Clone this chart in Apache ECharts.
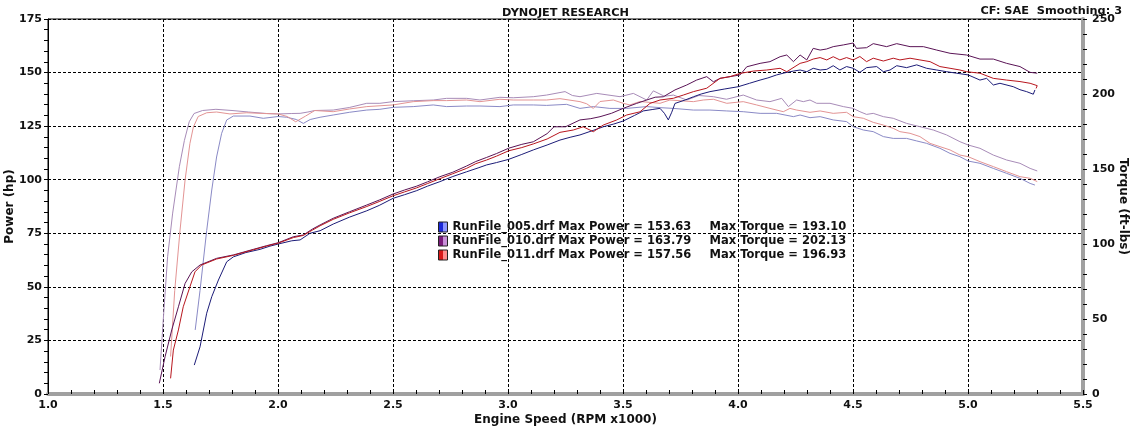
<!DOCTYPE html>
<html><head><meta charset="utf-8">
<script src="https://cdn.jsdelivr.net/npm/echarts/dist/echarts.min.js"></script>
<style>html,body{margin:0;padding:0;background:#fff}#c{width:1131px;height:426px}</style>
</head><body><div id="c"></div>
<script>
const runNames = ['RunFile_005.drf','RunFile_010.drf','RunFile_011.drf'];
const maxPower = [153.63, 163.79, 157.56];
const maxTorque = [193.10, 202.13, 196.93];

const power005 = [[1.636,13.5],[1.661,22.0],[1.690,37.7],[1.712,45.4],[1.741,53.2],[1.777,61.7],[1.806,64.0],[1.860,66.0],[1.922,67.5],[1.965,69.0],[2.001,70.0],[2.060,71.5],[2.096,71.9],[2.139,75.0],[2.183,76.2],[2.240,79.3],[2.310,82.5],[2.386,85.5],[2.440,88.0],[2.500,91.3],[2.550,93.0],[2.603,94.9],[2.650,97.0],[2.704,99.1],[2.760,101.5],[2.820,103.7],[2.870,105.5],[2.907,106.9],[2.950,108.0],[3.003,109.5],[3.060,111.8],[3.110,113.9],[3.170,116.2],[3.226,118.5],[3.270,119.8],[3.313,120.9],[3.370,123.0],[3.414,124.7],[3.460,126.0],[3.501,127.4],[3.550,130.0],[3.588,132.1],[3.630,132.8],[3.661,133.3],[3.680,131.0],[3.697,127.9],[3.712,131.5],[3.726,135.6],[3.770,137.2],[3.806,138.7],[3.840,140.0],[3.878,141.1],[3.940,142.3],[4.001,143.4],[4.050,145.0],[4.096,146.5],[4.130,147.5],[4.168,148.9],[4.200,149.8],[4.241,150.7],[4.270,151.2],[4.299,150.4],[4.327,152.0],[4.357,151.2],[4.386,151.5],[4.414,153.2],[4.443,151.2],[4.472,152.8],[4.501,152.0],[4.530,150.1],[4.559,152.3],[4.603,152.8],[4.632,150.4],[4.661,151.2],[4.690,153.2],[4.733,152.3],[4.777,153.6],[4.820,152.0],[4.864,151.2],[4.907,150.4],[4.951,149.7],[5.001,148.9],[5.052,146.5],[5.081,147.3],[5.110,144.2],[5.139,145.0],[5.197,143.4],[5.226,142.0],[5.255,141.1],[5.284,139.9],[5.291,141.9]];

const power010 = [[1.484,5.0],[1.509,17.4],[1.538,29.9],[1.567,40.7],[1.596,51.6],[1.625,57.0],[1.661,60.2],[1.733,63.3],[1.806,64.9],[1.893,67.5],[1.950,69.2],[2.001,70.6],[2.067,73.4],[2.110,74.2],[2.150,77.0],[2.183,78.9],[2.240,82.0],[2.310,85.0],[2.386,88.2],[2.440,90.5],[2.500,93.3],[2.550,95.2],[2.603,97.0],[2.650,99.0],[2.704,101.4],[2.760,103.5],[2.820,106.4],[2.860,108.5],[2.907,110.4],[2.950,112.2],[3.003,114.7],[3.060,116.5],[3.110,117.7],[3.170,121.5],[3.200,124.7],[3.250,124.7],[3.313,127.9],[3.360,128.5],[3.400,129.4],[3.450,131.0],[3.501,133.3],[3.559,135.6],[3.603,137.2],[3.640,138.5],[3.675,138.7],[3.726,141.9],[3.777,144.2],[3.820,146.5],[3.864,148.1],[3.893,145.7],[3.922,147.3],[3.965,148.1],[4.009,148.9],[4.038,152.7],[4.096,154.3],[4.139,155.1],[4.183,157.4],[4.212,158.2],[4.241,155.1],[4.270,158.2],[4.299,155.9],[4.327,161.3],[4.357,160.5],[4.385,161.0],[4.414,162.1],[4.458,162.9],[4.501,163.8],[4.515,161.3],[4.559,161.6],[4.588,163.5],[4.646,162.1],[4.690,163.5],[4.748,162.1],[4.806,162.1],[4.864,160.5],[4.922,159.0],[4.994,158.2],[5.052,156.3],[5.110,156.3],[5.168,154.3],[5.226,152.8],[5.270,150.1],[5.301,149.7]];

const power011 = [[1.533,7.3],[1.545,20.5],[1.567,29.9],[1.588,40.7],[1.617,50.0],[1.639,57.0],[1.668,60.2],[1.733,63.0],[1.806,64.7],[1.893,67.3],[1.950,69.0],[2.001,70.4],[2.067,73.0],[2.110,74.0],[2.150,76.5],[2.183,78.5],[2.240,81.5],[2.310,84.5],[2.386,87.5],[2.440,89.8],[2.500,92.5],[2.550,94.3],[2.603,96.2],[2.650,98.2],[2.704,100.5],[2.760,102.8],[2.820,105.3],[2.860,107.5],[2.907,109.2],[2.950,111.0],[3.003,113.5],[3.060,115.0],[3.110,116.7],[3.170,119.0],[3.226,122.1],[3.284,123.2],[3.327,124.7],[3.371,122.4],[3.414,125.5],[3.473,127.9],[3.516,130.2],[3.574,131.7],[3.617,135.6],[3.661,137.2],[3.719,138.0],[3.762,139.5],[3.806,141.1],[3.864,142.7],[3.922,147.3],[3.965,148.1],[4.009,149.6],[4.067,150.7],[4.125,151.2],[4.183,152.0],[4.212,150.4],[4.270,154.3],[4.299,155.1],[4.327,156.3],[4.357,157.0],[4.386,155.9],[4.414,157.4],[4.443,155.9],[4.472,157.0],[4.501,155.9],[4.530,157.5],[4.559,155.1],[4.588,156.7],[4.632,155.4],[4.675,156.7],[4.704,155.9],[4.748,156.7],[4.791,155.9],[4.835,155.1],[4.878,152.8],[4.922,152.0],[4.965,151.2],[4.994,150.4],[5.052,149.7],[5.110,147.3],[5.168,146.5],[5.226,145.8],[5.270,145.0],[5.301,143.9],[5.296,142.6]];

const torque005 = [[1.640,42.7],[1.661,69.0],[1.690,109.0],[1.712,136.0],[1.733,158.0],[1.755,173.8],[1.777,182.7],[1.806,185.3],[1.878,185.3],[1.936,183.8],[2.001,185.0],[2.038,184.5],[2.080,183.0],[2.110,180.4],[2.140,183.0],[2.183,184.5],[2.240,186.0],[2.310,187.8],[2.386,189.3],[2.443,189.8],[2.500,191.1],[2.588,191.6],[2.675,192.7],[2.733,191.6],[2.820,192.0],[2.878,192.0],[2.965,191.6],[3.023,192.7],[3.110,192.7],[3.168,192.4],[3.255,193.1],[3.313,190.4],[3.371,191.6],[3.443,190.4],[3.516,190.4],[3.603,191.6],[3.661,190.9],[3.719,190.4],[3.806,189.3],[3.878,189.3],[3.951,188.7],[4.023,188.2],[4.096,187.1],[4.168,187.1],[4.241,184.9],[4.270,186.0],[4.313,184.2],[4.357,184.9],[4.414,182.7],[4.472,181.6],[4.501,178.2],[4.545,176.0],[4.588,174.9],[4.632,171.6],[4.675,170.4],[4.733,170.4],[4.777,168.7],[4.820,167.1],[4.878,163.8],[4.922,160.4],[4.965,158.2],[5.001,155.3],[5.052,153.8],[5.110,150.4],[5.168,147.1],[5.226,143.8],[5.270,140.4],[5.291,139.3]];

const torque010 = [[1.487,16.0],[1.500,47.0],[1.520,91.5],[1.542,120.6],[1.571,151.5],[1.593,169.0],[1.614,181.5],[1.635,187.0],[1.672,189.0],[1.730,189.8],[1.800,189.0],[1.872,188.0],[1.950,187.0],[2.001,186.7],[2.060,187.0],[2.096,187.1],[2.130,188.0],[2.160,189.0],[2.240,189.3],[2.310,191.0],[2.386,193.8],[2.443,193.8],[2.500,194.9],[2.588,195.5],[2.675,196.0],[2.733,197.1],[2.820,197.1],[2.878,196.0],[2.965,197.8],[3.023,197.5],[3.110,198.2],[3.168,199.3],[3.248,201.6],[3.280,199.0],[3.313,198.2],[3.386,200.4],[3.487,198.2],[3.545,200.4],[3.603,196.0],[3.632,202.1],[3.680,198.5],[3.719,199.3],[3.777,196.0],[3.830,199.0],[3.893,198.2],[3.950,196.5],[4.023,199.3],[4.081,196.0],[4.139,194.9],[4.190,197.1],[4.219,191.6],[4.255,196.0],[4.284,194.9],[4.313,196.0],[4.342,193.8],[4.400,193.8],[4.458,191.6],[4.501,190.4],[4.530,188.2],[4.559,186.4],[4.588,187.1],[4.632,184.9],[4.675,183.8],[4.733,180.4],[4.791,178.2],[4.849,176.0],[4.907,172.7],[4.965,168.2],[5.001,166.0],[5.052,163.8],[5.110,159.3],[5.168,156.0],[5.226,153.8],[5.270,150.4],[5.301,148.7]];

const torque011 = [[1.533,25.0],[1.551,69.0],[1.574,109.0],[1.596,142.7],[1.617,167.0],[1.632,178.0],[1.653,185.0],[1.690,187.5],[1.733,188.0],[1.791,186.7],[1.864,187.5],[1.940,187.0],[2.001,186.7],[2.040,185.0],[2.077,181.5],[2.120,185.3],[2.160,189.0],[2.240,188.2],[2.310,190.0],[2.386,191.6],[2.500,192.7],[2.588,194.9],[2.675,195.6],[2.733,195.6],[2.820,196.0],[2.878,194.9],[2.965,196.5],[3.023,196.0],[3.110,196.0],[3.168,196.0],[3.226,196.9],[3.313,194.9],[3.342,193.5],[3.371,190.4],[3.400,195.0],[3.458,196.0],[3.501,193.8],[3.530,192.7],[3.574,195.0],[3.661,193.8],[3.704,196.0],[3.806,194.9],[3.849,196.0],[3.893,196.5],[3.951,193.8],[4.023,194.9],[4.081,192.7],[4.139,190.4],[4.197,188.2],[4.226,190.4],[4.255,189.3],[4.313,187.8],[4.357,188.7],[4.414,187.1],[4.472,187.8],[4.501,184.9],[4.545,183.8],[4.588,181.1],[4.632,179.3],[4.675,177.1],[4.704,174.9],[4.748,173.8],[4.791,171.6],[4.835,167.1],[4.878,164.9],[4.922,162.7],[4.965,159.3],[5.001,158.2],[5.052,154.9],[5.110,151.6],[5.168,148.2],[5.226,144.9],[5.270,143.8],[5.301,141.6]];

const powerSeries = [power005, power010, power011];
const torqueSeries = [torque005, torque010, torque011];
const powerColors = ['#1c1c78', '#5a1456', '#b8161e'];
const torqueColors = ['#8a8ac6', '#a88cb8', '#e39494'];
const legendDark = ['#1a28d8', '#7a1a7a', '#d81818'];
const legendLight = ['#8c96ff', '#c890d8', '#ff8c8c'];

const FONT = '"DejaVu Sans", Verdana, sans-serif';
const txt = {fontFamily: FONT, fontWeight: 'bold', fontSize: 11, color: '#111'};
const txtL = Object.assign({}, txt, {fontSize: 11.5});
const txtN = Object.assign({}, txt, {fontSize: 12});
const dashed = {show: true, lineStyle: {color: '#000', width: 1, type: [3, 2]}};

const chart = echarts.init(document.getElementById('c'));
const series = [];
torqueSeries.forEach((d, i) => series.push({
  name: runNames[i] + ' torque', type: 'line', yAxisIndex: 1, data: d,
  showSymbol: false, symbol: 'none', z: 2, silent: true,
  lineStyle: {color: torqueColors[i], width: 1}, itemStyle: {color: torqueColors[i]}
}));
powerSeries.forEach((d, i) => series.push({
  name: runNames[i], type: 'line', yAxisIndex: 0, data: d,
  showSymbol: false, symbol: 'none', z: 3, silent: true,
  lineStyle: {color: powerColors[i], width: 1}, itemStyle: {color: powerColors[i]}
}));

chart.setOption({
  animation: false,
  backgroundColor: '#fff',
  title: [
    {text: 'DYNOJET RESEARCH', left: 'center', top: 3, textStyle: Object.assign({}, txt, {fontSize: 11.3})},
    {text: 'CF: SAE  Smoothing: 3', right: 4, top: 1, textStyle: Object.assign({}, txt, {fontSize: 11.3})}
  ],
  grid: {left: 48, right: 48, top: 19, bottom: 32, containLabel: false, outerBoundsMode: 'none',
         show: true, borderColor: '#000', borderWidth: 1},
  legend: {
    orient: 'vertical', left: 433, top: 216, itemWidth: 9, itemHeight: 10, itemGap: 2,
    icon: 'rect', selectedMode: false,
    data: runNames.map((n, i) => ({
      name: n,
      itemStyle: {
        color: new echarts.graphic.LinearGradient(0, 0, 1, 0, [
          {offset: 0, color: legendDark[i]}, {offset: 0.5, color: legendDark[i]},
          {offset: 0.5, color: legendLight[i]}, {offset: 1, color: legendLight[i]}]),
        borderColor: '#222', borderWidth: 1
      }
    })),
    formatter: name => {
      const i = runNames.indexOf(name);
      return '{a|' + name + ' Max Power = ' + maxPower[i].toFixed(2) + '}{b|Max Torque = ' + maxTorque[i].toFixed(2) + '}';
    },
    textStyle: Object.assign({}, txtL, {
      rich: {a: Object.assign({width: 257, lineHeight: 12}, txtL), b: Object.assign({lineHeight: 12}, txtL)}
    })
  },
  xAxis: {
    type: 'value', min: 1, max: 5.5, interval: 0.5,
    name: 'Engine Speed (RPM x1000)', nameLocation: 'middle', nameGap: 20, nameMoveOverlap: false, nameTextStyle: txtN,
    axisLine: {show: true, onZero: false, lineStyle: {color: '#a0a0a0', width: 4}},
    axisTick: {show: true, inside: true, length: 4, lineStyle: {color: '#000'}},
    minorTick: {show: true, splitNumber: 5, length: 4, lineStyle: {color: '#000'}},
    axisLabel: Object.assign({formatter: v => v.toFixed(1), margin: 6}, txt),
    splitLine: dashed
  },
  yAxis: [{
    type: 'value', min: 0, max: 175, interval: 25, position: 'left',
    name: 'Power (hp)', nameLocation: 'middle', nameGap: 32, nameMoveOverlap: false, nameTextStyle: txtN,
    axisLine: {show: true, lineStyle: {color: '#000', width: 1}},
    axisTick: {show: true, length: 4, lineStyle: {color: '#000'}},
    minorTick: {show: true, splitNumber: 5, length: 4, lineStyle: {color: '#000'}},
    axisLabel: Object.assign({margin: 6}, txt),
    splitLine: dashed
  }, {
    type: 'value', min: 0, max: 250, interval: 50, position: 'right',
    name: 'Torque (ft-lbs)', nameLocation: 'middle', nameRotate: -90, nameGap: 34, nameMoveOverlap: false, nameTextStyle: txtN,
    axisLine: {show: true, lineStyle: {color: '#a0a0a0', width: 4}},
    axisTick: {show: true, length: 4, lineStyle: {color: '#000'}},
    minorTick: {show: true, splitNumber: 5, length: 4, lineStyle: {color: '#000'}},
    axisLabel: Object.assign({margin: 9}, txt),
    splitLine: {show: false}
  }],
  series: series
});
</script></body></html>
